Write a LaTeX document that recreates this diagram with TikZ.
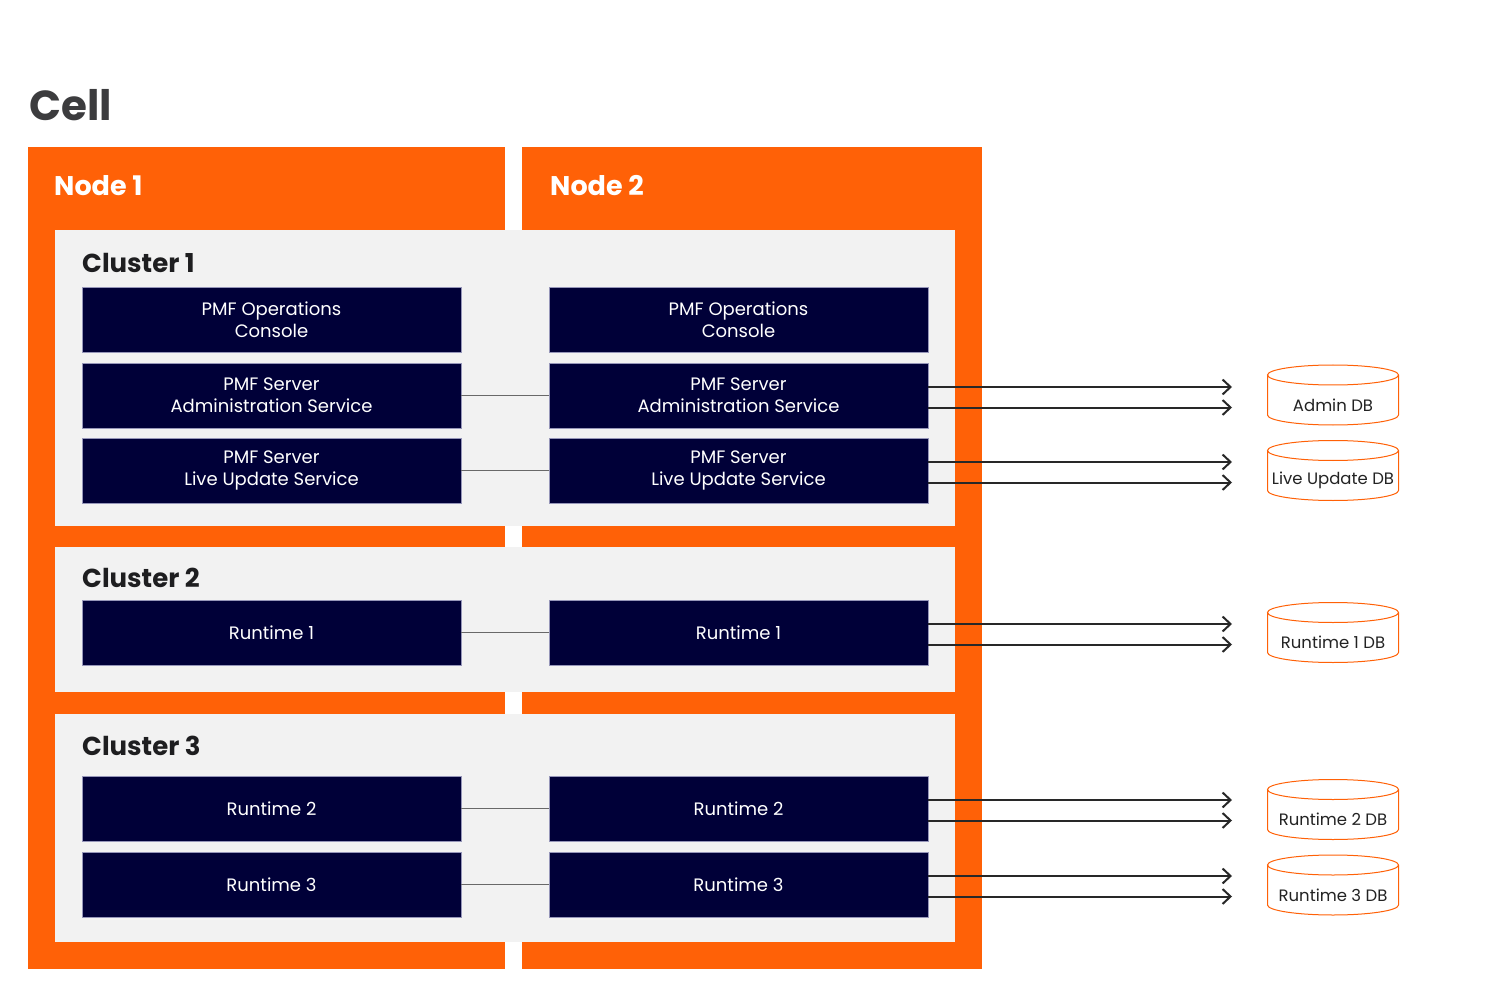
\documentclass[tikz,border=0pt]{standalone}
\usepackage{fontspec}
\setmainfont{Poppins}
\usetikzlibrary{arrows.meta,calc}
\definecolor{orng}{RGB}{255,97,7}
\definecolor{clgray}{RGB}{242,242,242}
\definecolor{navy}{RGB}{0,0,56}
\definecolor{navyedge}{RGB}{150,150,185}
\definecolor{celltxt}{RGB}{60,60,62}
\definecolor{cltxt}{RGB}{30,30,32}
\definecolor{arrcol}{RGB}{40,40,40}
\definecolor{lncol}{RGB}{105,105,105}
\definecolor{dbtxt}{RGB}{35,35,35}
\newcommand{\dbcyl}[4]{%
  \draw[orng, line width=1pt, fill=white]
    (#2-65.5,#3-20) -- (#2-65.5,#3+20)
    .. controls (#2-65.5,#3+25.523) and (#2-36.176,#3+30) .. (#2,#3+30)
    .. controls (#2+36.176,#3+30) and (#2+65.5,#3+25.523) .. (#2+65.5,#3+20)
    -- (#2+65.5,#3-20);
  \draw[orng, line width=1pt] (#2,#3-20) ellipse [x radius=65.5, y radius=10];
  \node[dbtext] (#1) at (#2,#3+10) {#4};
}
\begin{document}
\begin{tikzpicture}[x=1pt,y=-1pt,
  svc/.style={rectangle, fill=navy, draw=navyedge, line width=0.6pt,
    minimum width=379pt, minimum height=65pt, inner sep=0pt, text=white,
    font=\fontsize{18}{22}\selectfont, align=center},
  celltitle/.style={anchor=base west, inner sep=0pt, text=celltxt,
    font=\fontsize{42}{46}\selectfont\bfseries},
  nodetitle/.style={anchor=base west, inner sep=0pt, text=white,
    font=\fontsize{27}{30}\selectfont\bfseries},
  cltitle/.style={anchor=base west, inner sep=0pt, text=cltxt,
    font=\fontsize{26}{28}\selectfont\bfseries},
  dbtext/.style={inner sep=0pt, text=dbtxt, font=\fontsize{16.5}{20}\selectfont},
  link/.style={draw=lncol, line width=1.5pt},
  arr/.style={draw=arrcol, line width=2pt,
    -{Straight Barb[length=8pt, width=15pt, line width=2pt]}}
]
\useasboundingbox (0,0) rectangle (1500,1000);
% nodes (orange)
\fill[orng] (28,147) rectangle (505,969);
\fill[orng] (522,147) rectangle (982,969);
% clusters
\fill[clgray] (55,230) rectangle (955,526);
\fill[clgray] (55,547) rectangle (955,692);
\fill[clgray] (55,714) rectangle (955,942);
% titles
\node[celltitle] (cell) at (29,121) {Cell};
\node[nodetitle] (n1) at (54,196) {Node 1};
\node[nodetitle] (n2) at (550,196) {Node 2};
\node[cltitle] (c1) at (82,273) {Cluster 1};
\node[cltitle] (c2) at (82,587) {Cluster 2};
\node[cltitle] (c3) at (82,755) {Cluster 3};
% service boxes
\node[svc] (l1) at (271.5,320) {PMF Operations\\Console};
\node[svc] (r1) at (738.5,320) {PMF Operations\\Console};
\node[svc] (l2) at (271.5,395.5) {PMF Server\\Administration Service};
\node[svc] (r2) at (738.5,395.5) {PMF Server\\Administration Service};
\node[svc] (l3) at (271.5,470.5) {PMF Server\\Live Update Service};
\node[svc] (r3) at (738.5,470.5) {PMF Server\\Live Update Service};
\node[svc] (l4) at (271.5,632.5) {Runtime 1};
\node[svc] (r4) at (738.5,632.5) {Runtime 1};
\node[svc] (l5) at (271.5,808.5) {Runtime 2};
\node[svc] (r5) at (738.5,808.5) {Runtime 2};
\node[svc] (l6) at (271.5,884.5) {Runtime 3};
\node[svc] (r6) at (738.5,884.5) {Runtime 3};
% links between nodes
\foreach \i in {2,3,4,5,6} {\draw[link] (l\i.east) -- (r\i.west);}
% arrow ends
\coordinate (arrend) at (1232,0);
\foreach \i in {2,3,4,5,6} {
  \draw[arr] ($(r\i.east)+(0,-8.5)$) -- ($(r\i.east -| arrend)+(0,-8.5)$);
  \draw[arr] ($(r\i.east)+(0,12)$) -- ($(r\i.east -| arrend)+(0,12)$);
}
% databases
\dbcyl{db1}{1333}{395}{Admin DB}
\dbcyl{db2}{1333}{470.5}{Live Update DB}
\dbcyl{db3}{1333}{632.5}{Runtime 1 DB}
\dbcyl{db4}{1333}{809.5}{Runtime 2 DB}
\dbcyl{db5}{1333}{885}{Runtime 3 DB}
\end{tikzpicture}
\end{document}
